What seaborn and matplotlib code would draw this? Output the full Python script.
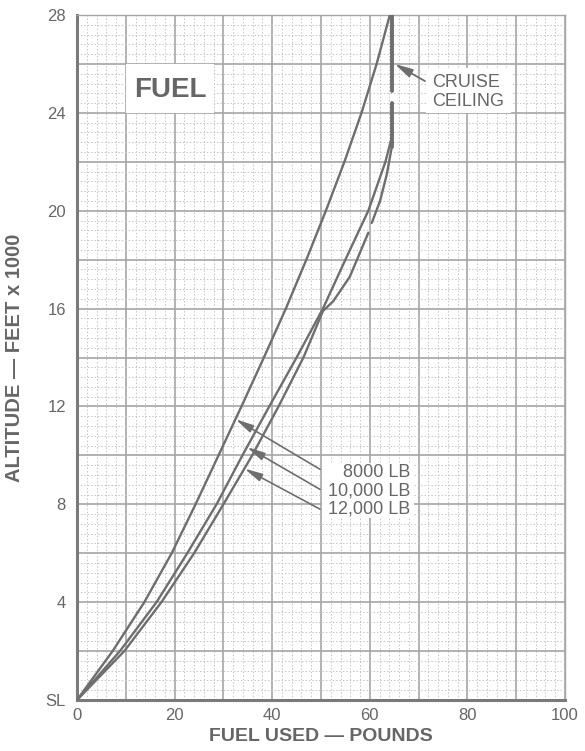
import numpy as np
import pandas as pd
import matplotlib
matplotlib.use("Agg")
import matplotlib.pyplot as plt
import seaborn as sns
from matplotlib.patches import Rectangle
from matplotlib.ticker import MultipleLocator

# Fuel used (lb) against altitude (ft x 1000) for each takeoff weight
alt_8000 = [0, 2, 4, 6, 8, 10, 12, 14, 16, 18, 20, 22, 24, 26, 28]
fuel_8000 = [0, 7.3, 13.8, 19.4, 24.3, 29.0, 33.7, 38.3, 42.8, 47.0, 51.0, 54.8, 58.3, 61.4, 64.1]

alt_10000 = [0, 2, 4, 6, 8, 10, 12, 14, 16, 18, 20, 22, 23]
fuel_10000 = [0, 8.8, 16.3, 22.6, 28.6, 33.9, 39.4, 45.0, 50.4, 55.0, 59.7, 63.2, 64.5]

alt_12000_low = [0, 2, 4, 6, 8, 10, 12, 14, 15.9, 16.3, 17.3, 19.1]
fuel_12000_low = [0, 9.7, 17.3, 24.0, 30.0, 35.9, 41.3, 46.4, 50.4, 52.5, 55.9, 59.7]
alt_12000_high = [19.5, 20.4, 21.5, 22.6]
fuel_12000_high = [60.4, 62.1, 63.5, 64.5]

# Cruise ceiling: fuel stays constant above the climb
ceiling_fuel = [64.5, 64.5]
ceiling_alt_low = [22.6, 24.4]
ceiling_alt_high = [24.9, 28.0]

x_tick_values = [0, 20, 40, 60, 80, 100]
y_tick_values = [0, 4, 8, 12, 16, 20, 24, 28]
y_tick_labels = ["SL", "4", "8", "12", "16", "20", "24", "28"]

weight_labels = ["8000 LB", "10,000 LB", "12,000 LB"]
callout_alts = [11.48, 10.34, 9.46]

INK = "#6e6e6e"
TXT = "#666666"
FONT = "Liberation Sans"

sns.set_theme(style="white")
plt.rcParams["font.family"] = [FONT, "DejaVu Sans"]

fig = plt.figure(figsize=(5.85, 7.51), dpi=100)
ax = fig.add_axes([77 / 585, 1 - 700 / 751, (565 - 77) / 585, (700 - 15) / 751])

# climb curves, one unit per drawn segment
segments = [
    ("8000", fuel_8000, alt_8000),
    ("10000", fuel_10000, alt_10000),
    ("12000a", fuel_12000_low, alt_12000_low),
    ("12000b", fuel_12000_high, alt_12000_high),
]
rows = []
for name, xs, ys in segments:
    for i, (x, y) in enumerate(zip(xs, ys)):
        rows.append({"segment": name, "order": i, "fuel": x, "alt": y})
df = pd.DataFrame(rows)
sns.lineplot(data=df, x="fuel", y="alt", units="segment", estimator=None,
             sort=False, color=INK, lw=1.7, ax=ax, zorder=5)

ceil_rows = []
for name, ys in (("c1", ceiling_alt_low), ("c2", ceiling_alt_high)):
    for x, y in zip(ceiling_fuel, ys):
        ceil_rows.append({"segment": name, "fuel": x, "alt": y})
sns.lineplot(data=pd.DataFrame(ceil_rows), x="fuel", y="alt", units="segment",
             estimator=None, sort=False, color=INK, lw=2.8, ax=ax, zorder=5)

# graph-paper grid
ax.set_xlim(0, 100)
ax.set_ylim(0, 28)
ax.xaxis.set_major_locator(MultipleLocator(10))
ax.xaxis.set_minor_locator(MultipleLocator(2))
ax.yaxis.set_major_locator(MultipleLocator(2))
ax.yaxis.set_minor_locator(MultipleLocator(0.4))
ax.grid(which="major", color="#a6a6a6", lw=1.2, ls="-")
ax.grid(which="minor", color="#c6c6c6", lw=0.7, ls=(0, (1.5, 2)))
ax.set_axisbelow(True)

xt = np.arange(0, 101, 10)
ax.set_xticks(xt)
ax.set_xticklabels([str(int(v)) if v in x_tick_values else "" for v in xt])
yt = np.arange(0, 29, 2)
ylab = dict(zip(y_tick_values, y_tick_labels))
ax.set_yticks(yt)
ax.set_yticklabels([ylab.get(int(v), "") for v in yt])
ax.tick_params(which="both", length=0, labelsize=12, labelcolor=TXT)
ax.tick_params(axis="x", pad=6)
ax.tick_params(axis="y", pad=8)

for side in ("left", "bottom"):
    ax.spines[side].set_color("#7a7a7a")
    ax.spines[side].set_linewidth(2.2)
for side in ("top", "right"):
    ax.spines[side].set_color("#a6a6a6")
    ax.spines[side].set_linewidth(1.0)

ax.set_xlabel("FUEL USED — POUNDS", fontsize=14, fontweight="bold", color=TXT)
ax.set_ylabel("ALTITUDE — FEET x 1000", fontsize=14.5, fontweight="bold", color=TXT)
ax.xaxis.set_label_coords(0.5, -0.041)
ax.yaxis.set_label_coords(-0.108, 0.5)

# title box
ax.add_patch(Rectangle((10, 24), 18, 2, facecolor="white", edgecolor="none", zorder=3))
ax.text(19.2, 24.95, "FUEL", fontsize=20, fontweight="heavy", color=TXT,
        ha="center", va="center", zorder=4)

# cruise ceiling callout
ax.add_patch(Rectangle((71.5, 24), 17.5, 1.85, facecolor="white", edgecolor="none", zorder=3))
ax.text(72.7, 24.85, "CRUISE\nCEILING", fontsize=13, color=TXT, ha="left",
        va="center", linespacing=1.15, zorder=4)
ax.annotate("", xy=(65.1, 26.0), xytext=(71.3, 25.3),
            arrowprops=dict(arrowstyle="-|>,head_length=0.9,head_width=0.22",
                            color=INK, lw=1.3, shrinkA=0, shrinkB=0), zorder=6)

# weight callouts
ax.add_patch(Rectangle((50.2, 7.45), 18.8, 2.25, facecolor="white", edgecolor="none", zorder=3))
curves = [(alt_8000, fuel_8000), (alt_10000, fuel_10000), (alt_12000_low, fuel_12000_low)]
label_y = [9.3, 8.55, 7.8]
tail_y = [9.43, 8.61, 7.8]
for text, a, (ys, xs), ly, ty in zip(weight_labels, callout_alts, curves, label_y, tail_y):
    ax.text(68.3, ly, text, fontsize=13, color=TXT, ha="right", va="center", zorder=4)
    tip_x = float(np.interp(a, ys, xs))
    ax.annotate("", xy=(tip_x, a), xytext=(49.8, ty),
                arrowprops=dict(arrowstyle="-|>,head_length=0.9,head_width=0.2",
                                color=INK, lw=1.2, shrinkA=0, shrinkB=0), zorder=6)

fig.savefig("out.png", dpi=100, facecolor="white")
